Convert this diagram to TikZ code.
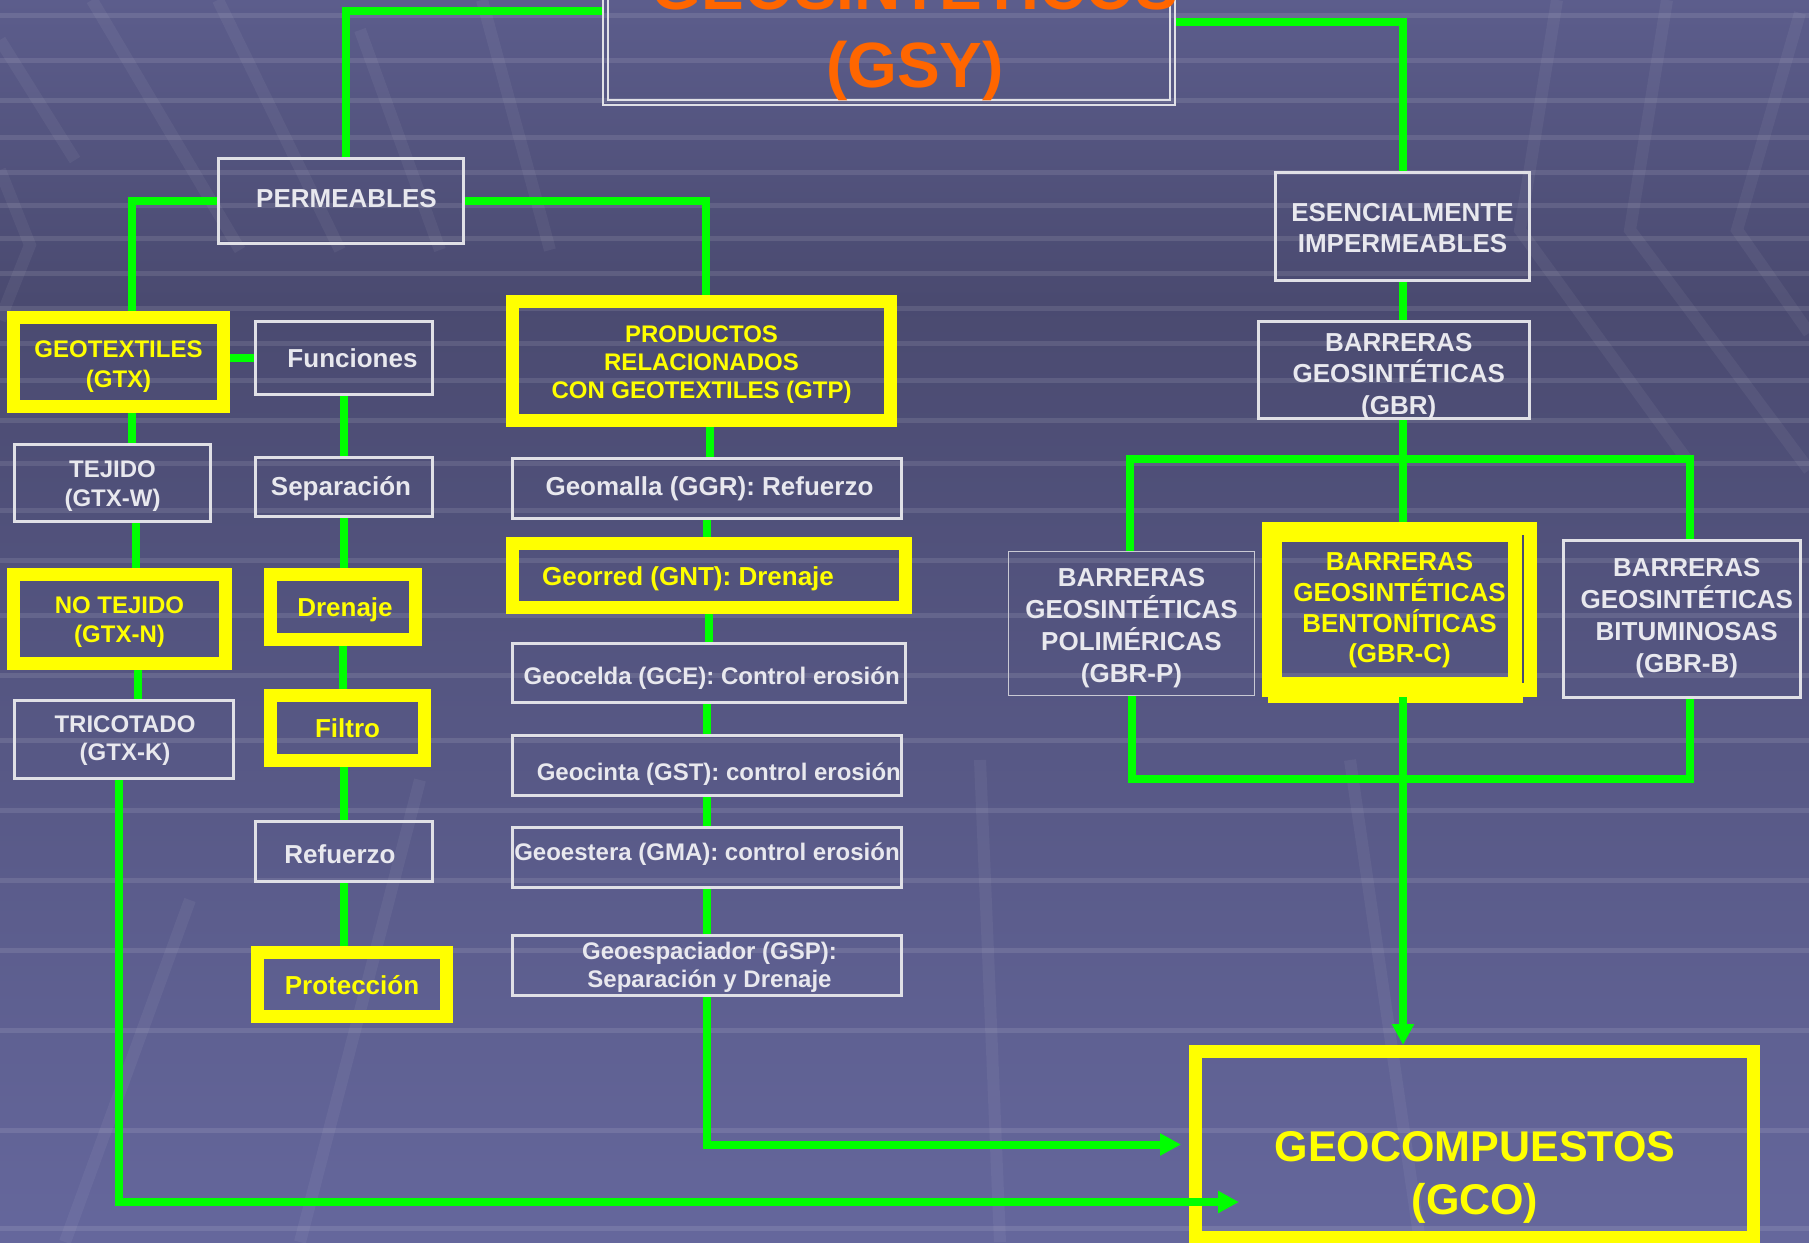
\documentclass[tikz,border=0pt]{standalone}
\usepackage{fontspec}
\setmainfont{Liberation Sans}
\usetikzlibrary{arrows.meta,calc}
\definecolor{bgtop}{HTML}{5C5D8C}
\definecolor{bgmid}{HTML}{4A4A70}
\definecolor{bgbot}{HTML}{65679C}
\definecolor{grn}{HTML}{00FF00}
\definecolor{yel}{HTML}{FFFF00}
\definecolor{wtxt}{HTML}{E8E8EE}
\definecolor{wbord}{HTML}{E0E0E6}
\definecolor{orng}{HTML}{FF6600}
% text block shifted by (dx, dy) from the box centre (dy down)
\newcommand\tx[3]{\hspace*{2\dimexpr#1\relax}\smash{\raisebox{\dimexpr-#2-0.37em\relax}{\begin{tabular}{@{}c@{}}#3\end{tabular}}}}
\begin{document}
\begin{tikzpicture}[x=1pt,y=-1pt,
  wbox/.style={draw=wbord, line width=3pt, text=wtxt, inner sep=0pt, font=\bfseries\fontsize{26}{32}\selectfont},
  ybox/.style={draw=yel, line width=13pt, text=yel, inner sep=0pt, font=\bfseries\fontsize{26}{32}\selectfont},
  small/.style={font=\bfseries\fontsize{24}{29}\selectfont},
  sz/.style 2 args={minimum width=#1pt, minimum height=#2pt},
  gl/.style={draw=grn, line width=8pt},
  garr/.style={gl, -{Triangle[length=21pt,width=21pt]}},
  stripe/.style={white, opacity=0.10, line width=5pt},
  diag/.style={white, opacity=0.05, line width=12pt},
]
\useasboundingbox (0,0) rectangle (1809,1242);
\clip (0,0) rectangle (1809,1242);
% background
\shade[top color=bgtop, bottom color=bgmid] (0,0) rectangle (1809,300);
\shade[top color=bgmid, bottom color=bgbot] (0,299) rectangle (1809,1242);
\foreach \yy in {15,60,100,137,172,205,238,273,308,343,380,420,463,510,560,615,675,740,810,880,950,1030,1130,1228}
  \draw[stripe] (0,\yy) -- (1809,\yy);
\draw[diag] (0,40) -- (75,160);
\draw[diag] (92,0) -- (240,250);
\draw[diag] (218,0) -- (340,250);
\draw[diag] (360,30) -- (440,250);
\draw[diag] (482,0) -- (550,250);
\draw[diag] (1800,13) -- (1737,230) -- (1809,333);
\draw[diag] (1667,0) -- (1630,230) -- (1809,470);
\draw[diag] (1557,0) -- (1520,230) -- (1687,460);
\draw[diag] (0,170) -- (30,245) -- (0,320);
\draw[diag] (190,900) -- (65,1242);
\draw[diag] (420,780) -- (300,1242);
\draw[diag] (980,760) -- (1000,1242);
\draw[diag] (1350,760) -- (1420,1242);

% title
\node[draw=wbord, line width=2pt, sz={572}{240}] (title) at (889,-15) {};
\draw[wbord, line width=2pt] ([xshift=6pt,yshift=6pt]title.south west) rectangle ([xshift=-6pt,yshift=-6pt]title.north east);
\node[anchor=south, inner sep=0pt, align=center, text=orng, font=\bfseries\fontsize{64}{78}\selectfont] (titletxt) at (915,101.4) {GEOSINTÉTICOS\\(GSY)};

% left part
\node[wbox, sz={245}{85}] (perm) at (341,201) {\tx{5.5pt}{-3.5pt}{PERMEABLES}};
\node[ybox, small, sz={210}{89}, font=\bfseries\fontsize{24}{30}\selectfont] (gtx) at (118.5,362) {\tx{0pt}{1.5pt}{GEOTEXTILES\\(GTX)}};
\node[wbox, sz={177}{73}] (func) at (344,358) {\tx{8.5pt}{0pt}{Funciones}};
\node[wbox, sz={177}{59}] (sep) at (344,487) {\tx{-3pt}{-1pt}{Separación}};
\node[wbox, small, sz={196}{77}] (tej) at (112.5,483) {\tx{0pt}{0.5pt}{TEJIDO\\(GTX-W)}};
\node[ybox, small, sz={212}{89}] (notej) at (119.5,619) {\tx{0pt}{1pt}{NO TEJIDO\\(GTX-N)}};
\node[wbox, small, sz={219}{78}, font=\bfseries\fontsize{24}{28.5}\selectfont] (tric) at (124,739.5) {\tx{1pt}{-1.2pt}{TRICOTADO\\(GTX-K)}};
\node[ybox, sz={145}{65}] (dren) at (343,607) {\tx{2pt}{0pt}{Drenaje}};
\node[ybox, sz={154}{65}] (filt) at (347.5,728) {\tx{0pt}{-0.5pt}{Filtro}};
\node[wbox, sz={177}{60}] (ref) at (344,851.5) {\tx{-4pt}{1.8pt}{Refuerzo}};
\node[ybox, sz={189}{64}] (prot) at (352,984.5) {\tx{0pt}{0pt}{Protección}};

% middle column
\node[ybox, sz={378}{119}, font=\bfseries\fontsize{24}{28}\selectfont] (gtp) at (701.5,361) {\tx{0pt}{1pt}{PRODUCTOS\\RELACIONADOS\\CON GEOTEXTILES (GTP)}};
\node[wbox, sz={389}{60}] (geom) at (707,488.5) {\tx{2.5pt}{-2.7pt}{Geomalla (GGR): Refuerzo}};
\node[ybox, sz={393}{64}] (gnt) at (709,575.5) {\tx{-21pt}{0pt}{Georred (GNT): Drenaje}};
\node[wbox, small, sz={393}{59}] (gcel) at (709,673) {\tx{2.7pt}{3.3pt}{Geocelda (GCE): Control erosión}};
\node[wbox, small, sz={389}{60}] (gcin) at (707,765.5) {\tx{11.8pt}{6.2pt}{Geocinta (GST): control erosión}};
\node[wbox, small, sz={389}{60}] (gest) at (707,857.5) {\tx{0pt}{-5pt}{Geoestera (GMA): control erosión}};
\node[wbox, sz={389}{60}, font=\bfseries\fontsize{24}{28.3}\selectfont] (gesp) at (707,965.5) {\tx{2.5pt}{0pt}{Geoespaciador (GSP):\\Separación y Drenaje}};

% right part
\node[wbox, sz={254}{108}, font=\bfseries\fontsize{26}{31.3}\selectfont] (esenc) at (1402.5,226.5) {\tx{0pt}{0.5pt}{ESENCIALMENTE\\IMPERMEABLES}};
\node[wbox, sz={271}{97}, font=\bfseries\fontsize{26}{31.5}\selectfont] (gbr) at (1394,370) {\tx{4.7pt}{3.2pt}{BARRERAS\\\smash{GEOSINTÉTICAS}\\(GBR)}};
\node[wbox, line width=1.5pt, draw=wbord!85!bgmid, sz={246}{144}, font=\bfseries\fontsize{26}{31.8}\selectfont] (gbrp) at (1131.5,623.5) {\tx{0pt}{1.3pt}{BARRERAS\\\smash{GEOSINTÉTICAS}\\\smash{POLIMÉRICAS}\\(GBR-P)}};
\node[ybox, line width=20pt, sz={255}{155}, font=\bfseries\fontsize{26}{30.7}\selectfont] (gbrc) at (1399.5,609.5) {\tx{0pt}{-2.2pt}{BARRERAS\\\smash{GEOSINTÉTICAS}\\\smash{BENTONÍTICAS}\\(GBR-C)}};
\fill[yel] (1508,542) rectangle (1517,683);
\fill[yel] (1268,697) rectangle (1523,703);
\draw[bgmid, line width=1.5pt] (1523,535) -- (1523,683);
\node[wbox, sz={237}{157}] (gbrb) at (1682,619) {\tx{4.7pt}{-4.7pt}{BARRERAS\\\smash{GEOSINTÉTICAS}\\BITUMINOSAS\\(GBR-B)}};

% geocompuestos
\node[draw=yel, line width=13pt, sz={558}{186}] (gco) at (1474.5,1144.5) {};
\node[inner sep=0pt, align=center, text=yel, font=\bfseries\fontsize{43}{53}\selectfont] (gcotxt) at (1475,1177) {GEOCOMPUESTOS\\(GCO)};
\coordinate (gcoin) at (1239,1202);

% connectors
\draw[gl] (title.west |- 0,11) -| ([xshift=5pt]perm.north);
\draw[gl] (title.east |- 0,22) -| (esenc.north);
\draw[gl] (perm.west) -| ([xshift=13.5pt]gtx.north);
\draw[gl] (perm.east) -| ([xshift=4.5pt]gtp.north);
\draw[gl] (gtx.east |- func.west) -- (func.west);
\draw[gl] ([xshift=13.5pt]gtx.south) -- ([xshift=13.5pt]gtx.south |- tej.north);
\draw[gl] ([xshift=23.5pt]tej.south) -- ([xshift=23.5pt]tej.south |- notej.north);
\draw[gl] ([xshift=18.5pt]notej.south) -- ([xshift=18.5pt]notej.south |- tric.north);
\draw[gl] (func.south) -- (sep.north);
\draw[gl] (sep.south) -- (sep.south |- dren.north);
\draw[gl] (dren.south) -- (dren.south |- filt.north);
\draw[gl] (ref.north |- filt.south) -- (ref.north);
\draw[gl] (ref.south) -- (ref.south |- prot.north);
\draw[gl] ([xshift=8.5pt]gtp.south) -- ([xshift=8.5pt]gtp.south |- geom.north);
\draw[gl] (geom.south) -- (geom.south |- gnt.north);
\draw[gl] (gcel.north |- gnt.south) -- (gcel.north);
\draw[gl] (gcin.north |- gcel.south) -- (gcin.north);
\draw[gl] (gcin.south) -- (gest.north);
\draw[gl] (gest.south) -- (gesp.north);
\draw[garr] (gesp.south) |- ([xshift=-8pt]gco.west);
\draw[garr] ([xshift=-5pt]tric.south) |- (gcoin);
\draw[gl] (esenc.south) -- (esenc.south |- gbr.north);
\draw[gl] ([xshift=9pt]gbr.south) -- ([xshift=9pt]gbr.south |- gbrc.north);
\draw[gl] ([xshift=-1.5pt]gbrp.north) |- ([xshift=8pt]gbrb.north |- 0,459) -- ([xshift=8pt]gbrb.north);
\draw[gl] ([xshift=0.5pt]gbrp.south) |- ([xshift=8pt]gbrb.south |- 0,779) -- ([xshift=8pt]gbrb.south);
\draw[garr] ([xshift=3.5pt]gbrc.south) -- ([xshift=3.5pt]gbrc.south |- gco.north);
\end{tikzpicture}
\end{document}
